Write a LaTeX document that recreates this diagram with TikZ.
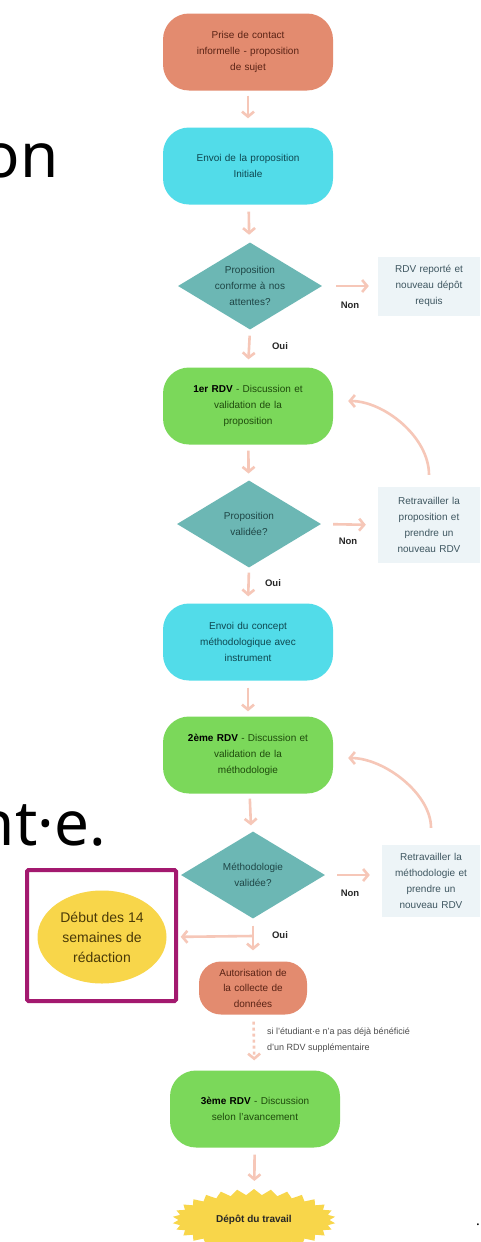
\documentclass[tikz,border=0pt]{standalone}
\usepackage{fontspec}
\setmainfont{Liberation Sans}
\newfontfamily\slidefont{Noto Sans}
\usetikzlibrary{shapes.geometric,shapes.symbols,arrows.meta}
\definecolor{orangeF}{HTML}{E38B6F}
\definecolor{orangeT}{HTML}{5A2315}
\definecolor{cyanF}{HTML}{52DCE9}
\definecolor{cyanT}{HTML}{0E4750}
\definecolor{greenF}{HTML}{7BD85A}
\definecolor{greenT}{HTML}{1E4A0C}
\definecolor{tealF}{HTML}{6CB7B4}
\definecolor{tealT}{HTML}{1E4545}
\definecolor{boxF}{HTML}{EDF4F7}
\definecolor{boxT}{HTML}{3E5660}
\definecolor{arrowC}{HTML}{F6C7B8}
\definecolor{yellowF}{HTML}{F8D64A}
\definecolor{yellowT}{HTML}{4A3A08}
\definecolor{frameC}{HTML}{A3196F}
\tikzset{
  txt/.style={align=center, font=\fontsize{10}{16}\selectfont, inner sep=0pt},
  proc/.style={txt, rounded corners=26pt, minimum width=170pt, minimum height=77pt, text width=150pt},
  orangebox/.style={proc, fill=orangeF, text=orangeT},
  cyanbox/.style={proc, fill=cyanF, text=cyanT},
  greenbox/.style={proc, fill=greenF, text=greenT},
  decision/.style={txt, diamond, aspect=1.66, fill=tealF, text=tealT, minimum width=144pt, minimum height=87pt, text width=72pt},
  notebox/.style={txt, fill=boxF, text=boxT, text width=96pt},
  arr/.style={draw=arrowC, line width=2.6pt, -{Straight Barb[length=5pt,width=12pt,line width=2.6pt]}},
  lbl/.style={font=\bfseries\fontsize{9.5}{11}\selectfont, text=black!85, inner sep=0pt},
  bigtxt/.style={font=\slidefont\fontsize{62}{62}\selectfont, inner sep=0pt, text=black}
}
\begin{document}
\begin{tikzpicture}[x=1pt,y=-1pt]
\useasboundingbox (0,0) rectangle (481,1242);
\clip (0,0) rectangle (481,1242);
\fill[white] (0,0) rectangle (481,1242);

% slide text fragments (cut at the left edge in the reference)
\node[bigtxt, anchor=base east] (s1) at (59,177) {on};
\node[bigtxt, anchor=base east] (s2) at (106,845) {nt·e.};
\node[bigtxt, font=\slidefont\fontsize{14}{14}\selectfont, anchor=base east] (s3) at (480,1225) {.};

% main column
\node[orangebox] (n1) at (248,52) {Prise de contact\\informelle - proposition\\de sujet};
\node[cyanbox] (n2) at (248,166) {Envoi de la proposition\\Initiale};
\node[decision] (d1) at (250,286) {Proposition\\conforme à nos\\attentes?};
\node[notebox, minimum width=102pt, minimum height=59pt] (b1) at (429,286) {RDV reporté et\\nouveau dépôt\\requis};
\node[greenbox] (n3) at (248,406) {{\color{black}\textbf{1er RDV}} - Discussion et\\validation de la\\proposition};
\node[decision] (d2) at (249,524) {Proposition\\validée?};
\node[notebox, minimum width=102pt, minimum height=76pt] (b2) at (429,525) {Retravailler la\\proposition et\\prendre un\\nouveau RDV};
\node[cyanbox] (n4) at (248,642) {Envoi du concept\\méthodologique avec\\instrument};
\node[greenbox] (n5) at (248,755) {{\color{black}\textbf{2ème RDV}} - Discussion et\\validation de la\\méthodologie};
\node[decision] (d3) at (253,875) {Méthodologie\\validée?};
\node[notebox, minimum width=98pt, minimum height=72pt] (b3) at (431,881) {Retravailler la\\méthodologie et\\prendre un\\nouveau RDV};
\node[txt, ellipse, fill=yellowF, text=yellowT, minimum width=129pt, minimum height=93pt, font=\fontsize{14}{20}\selectfont] (e1) at (102,937) {Début des 14\\semaines de\\rédaction};
\draw[frameC, line width=4pt, rounded corners=1.5pt] (27,870) rectangle (176,1001);
\node[txt, fill=orangeF, text=orangeT, rounded corners=22pt, minimum width=108pt, minimum height=53pt, text width=100pt, font=\fontsize{10}{15.5}\selectfont] (n6) at (253,988) {Autorisation de\\la collecte de\\données};
\node[greenbox] (n7) at (255,1109) {{\color{black}\textbf{3ème RDV}} - Discussion\\selon l'avancement};
\node[txt, starburst, starburst points=30, starburst point height=6pt, random starburst=0, fill=yellowF, text=black!85, minimum width=163pt, minimum height=62pt, font=\bfseries\fontsize{10}{12}\selectfont] (n8) at (254,1220) {Dépôt du travail};

% connectors
\draw[arr, shorten <=5pt, shorten >=9pt] (n1) -- (n2);
\draw[arr, shorten <=7pt, shorten >=8pt] (n2) -- (d1);
\draw[arr, shorten <=6pt, shorten >=8pt] (d1.south) -- (n3.north);
\draw[arr, shorten <=14pt, shorten >=9pt] (d1.east) -- (b1.west);
\draw[arr, shorten <=6pt, shorten >=7pt] (n3) -- (d2);
\draw[arr, shorten <=12pt, shorten >=12pt] (d2.east) -- (b2.west);
\draw[arr, shorten <=5pt, shorten >=7pt] (d2.south) -- (n4.north);
\draw[arr, shorten <=12pt, shorten >=15pt] (b2.north) to[out=90,in=0] ([yshift=5pt]n3.east);
\draw[arr, shorten <=7pt, shorten >=5pt] (n4) -- (n5);
\draw[arr, shorten <=5pt, shorten >=7pt] (n5) -- (d3);
\draw[arr, shorten <=12pt, shorten >=12pt] (d3.east) -- ([yshift=6pt]b3.west);
\draw[arr, shorten <=17pt, shorten >=15pt] (b3.north) to[out=90,in=0] ([yshift=-3pt]n5.east);
\draw[arr, shorten <=7pt, shorten >=11pt] (d3.south) -- (n6.north);
\coordinate (br) at (253,936);
\draw[arr, shorten >=14pt] (br) -- (e1.east);
\draw[arr, dashed, dash pattern=on 3pt off 3pt, shorten <=7pt, shorten >=10pt] (n6) -- (n7);
\draw[arr, shorten <=7pt, shorten >=8pt] (n7) -- (n8);

% labels
\node[lbl] (l1) at (350,305) {Non};
\node[lbl] (l2) at (280,346) {Oui};
\node[lbl] (l3) at (348,541) {Non};
\node[lbl] (l4) at (273,583) {Oui};
\node[lbl] (l5) at (350,893) {Non};
\node[lbl] (l6) at (280,935) {Oui};
\node[txt, align=left, anchor=west, text=black!70, font=\fontsize{9}{16}\selectfont] (l7) at (267,1040) {si l'étudiant·e n'a pas déjà bénéficié\\d'un RDV supplémentaire};
\end{tikzpicture}
\end{document}
